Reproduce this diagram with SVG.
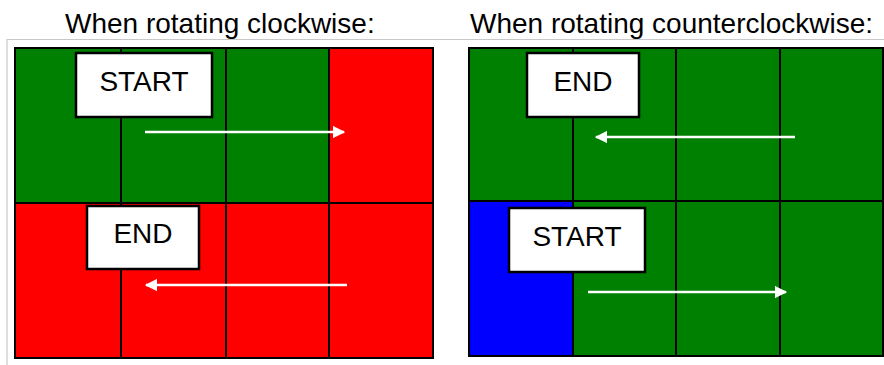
<svg xmlns="http://www.w3.org/2000/svg" width="884" height="365" viewBox="0 0 884 365">
<style>
.title{font-family:"Liberation Sans",Arial,sans-serif;font-size:28px;fill:#000}
.lbl{font-family:"Liberation Sans",Arial,sans-serif;font-size:28px;fill:#000;text-anchor:middle}
.g{fill:#008000}
.r{fill:#ff0000}
.b{fill:#0000ff}
.cell{stroke:#000;stroke-width:2}
.box{fill:#fff;stroke:#000;stroke-width:2.5}
.arrow{stroke:#fff;stroke-width:2.5;fill:none;marker-end:url(#ah)}
.frame{stroke:#c8c8c8;stroke-width:1.2;fill:none}
</style>
<defs>
<marker id="ah" viewBox="0 0 10 10" refX="9" refY="5" markerWidth="5" markerHeight="5" orient="auto" markerUnits="strokeWidth">
<path d="M0,0 L10,5 L0,10 z" fill="#fff"/>
</marker>
</defs>
<rect width="884" height="365" fill="#fff"/>
<text class="title" x="65" y="33">When rotating clockwise:</text>
<text class="title" x="470" y="33">When rotating counterclockwise:</text>
<path class="frame" d="M7,365 V39.5 H884"/>
<g id="left-grid">
<rect class="cell g" x="15" y="48" width="106" height="155"/>
<rect class="cell g" x="121" y="48" width="105" height="155"/>
<rect class="cell g" x="226" y="48" width="103" height="155"/>
<rect class="cell r" x="329" y="48" width="104" height="155"/>
<rect class="cell r" x="15" y="203" width="106" height="155"/>
<rect class="cell r" x="121" y="203" width="105" height="155"/>
<rect class="cell r" x="226" y="203" width="103" height="155"/>
<rect class="cell r" x="329" y="203" width="104" height="155"/>
</g>
<g id="right-grid">
<rect class="cell g" x="469" y="48" width="104" height="153"/>
<rect class="cell g" x="573" y="48" width="103" height="153"/>
<rect class="cell g" x="676" y="48" width="104" height="153"/>
<rect class="cell g" x="780" y="48" width="103" height="153"/>
<rect class="cell b" x="469" y="201" width="104" height="155"/>
<rect class="cell g" x="573" y="201" width="103" height="155"/>
<rect class="cell g" x="676" y="201" width="104" height="155"/>
<rect class="cell g" x="780" y="201" width="103" height="155"/>
</g>
<g id="connectors">
<line class="arrow" x1="145" y1="132" x2="344" y2="132"/>
<line class="arrow" x1="347" y1="285" x2="146" y2="285"/>
<line class="arrow" x1="795" y1="137" x2="596" y2="137"/>
<line class="arrow" x1="588" y1="292" x2="786" y2="292"/>
</g>
<g id="start-left">
<rect class="box" x="76" y="53" width="136" height="64"/>
<text class="lbl" x="144" y="91">START</text>
</g>
<g id="end-left">
<rect class="box" x="87" y="206" width="112" height="63"/>
<text class="lbl" x="143" y="243">END</text>
</g>
<g id="end-right">
<rect class="box" x="527" y="53" width="112" height="64"/>
<text class="lbl" x="583" y="91">END</text>
</g>
<g id="start-right">
<rect class="box" x="509" y="208" width="136" height="64"/>
<text class="lbl" x="577" y="246">START</text>
</g>
</svg>
